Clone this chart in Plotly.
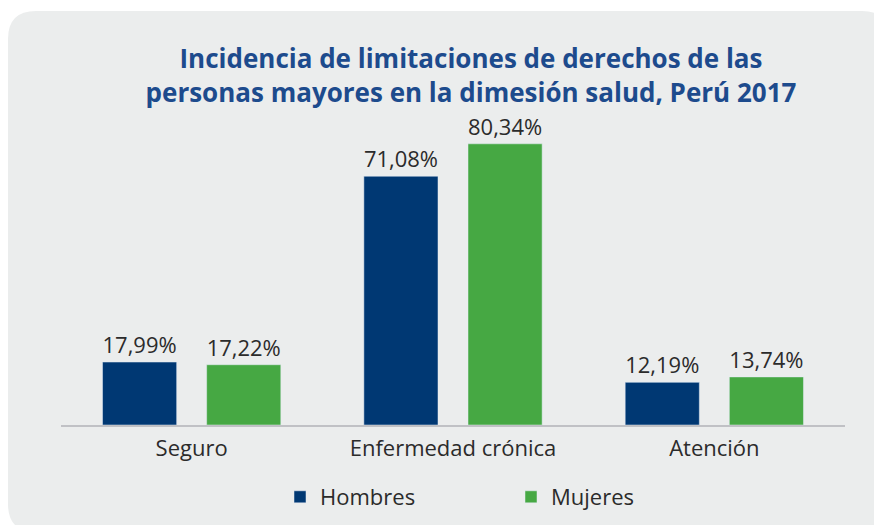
import plotly.graph_objects as go

categories = ["Seguro", "Enfermedad crónica", "Atención"]
hombres = [17.99, 71.08, 12.19]
mujeres = [17.22, 80.34, 13.74]
series_names = ["Hombres", "Mujeres"]
title_lines = ["Incidencia de limitaciones de derechos de las",
               "personas mayores en la dimesión salud, Perú 2017"]

def fmt(v):
    return f"{v:.2f}".replace(".", ",") + "%"

# page body has an 8px margin; figure coordinates are page - 8
OFF = 8
W, H = 882 - OFF, 525 - OFF
L, R, T, B = 61 - OFF, 37, 110 - OFF, 100
pw, ph = W - L - R, H - T - B

def P(x, y):
    # page pixel -> paper coords
    a = (x - OFF - L) / pw
    b = (H - B - (y - OFF)) / ph
    return f"{a:.5f},{b:.5f}"

# rounded panel (page pixels)
x0, y0, x1, y1, r = 8, 11, 890, 532, 28
path = (f"M{P(x0 + r, y0)} L{P(x1 - r, y0)} Q{P(x1, y0)} {P(x1, y0 + r)} "
        f"L{P(x1, y1 - r)} Q{P(x1, y1)} {P(x1 - r, y1)} "
        f"L{P(x0 + r, y1)} Q{P(x0, y1)} {P(x0, y1 - r)} "
        f"L{P(x0, y0 + r)} Q{P(x0, y0)} {P(x0 + r, y0)} Z")

font_family = "Open Sans, Noto Sans, sans-serif"
txt = "#2b2b2b"
fig = go.Figure()
fig.add_trace(go.Bar(x=categories, y=hombres, name=series_names[0],
                     marker_color="#003873",
                     text=[fmt(v) for v in hombres], textposition="outside",
                     textfont=dict(size=22, color=txt), cliponaxis=False))
fig.add_trace(go.Bar(x=categories, y=mujeres, name=series_names[1],
                     marker_color="#46a843",
                     text=[fmt(v) for v in mujeres], textposition="outside",
                     textfont=dict(size=22, color=txt), cliponaxis=False))

fig.update_layout(
    width=W, height=H,
    margin=dict(l=L, r=R, t=T, b=B, autoexpand=False),
    paper_bgcolor="white", plot_bgcolor="rgba(0,0,0,0)",
    font=dict(family=font_family, color=txt),
    barmode="group", bargap=0.203, bargroupgap=0.288,
    title=dict(text="<br>".join(title_lines), x=(471 - OFF) / W, xanchor="center",
               xref="container", y=1 - (68 - OFF) / H, yanchor="top",
               font=dict(size=26, color="#1d4b8d", family=font_family, weight="bold")),
    shapes=[dict(type="path", path=path, xref="paper", yref="paper",
                 fillcolor="#ebeded", line=dict(width=0), layer="below")],
    xaxis=dict(showline=True, linecolor="#c0c1c5", linewidth=2, ticks="",
               ticklabelstandoff=3,
               tickfont=dict(size=22, color=txt), showgrid=False),
    yaxis=dict(range=[0, 90], visible=False),
    legend=dict(orientation="h", x=(280 - OFF - L) / pw, xanchor="left",
                yref="container", y=1 - (476 - OFF) / H, yanchor="top",
                font=dict(size=22, color=txt),
                entrywidth=186, entrywidthmode="pixels",
                bgcolor="rgba(0,0,0,0)"),
)
fig.write_html("out.html",
               post_script="document.documentElement.style.overflow='hidden';"
                           "document.body.style.overflow='hidden';")
